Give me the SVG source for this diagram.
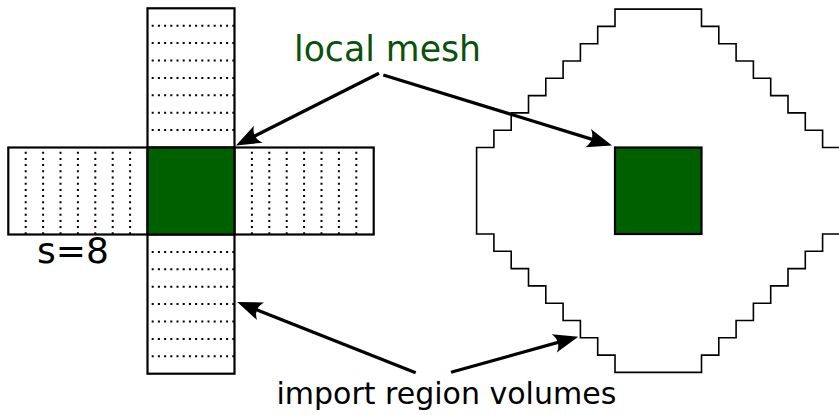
<svg xmlns="http://www.w3.org/2000/svg" width="839" height="415" viewBox="0 0 839 415">
  <style>
    .bar { fill: #ffffff; stroke: #000000; stroke-width: 2.2; }
    .mesh { fill: #006000; stroke: #000000; stroke-width: 2.2; }
    .dots { fill: none; stroke: #000000; stroke-width: 2; stroke-dasharray: 2 4.2; stroke-dashoffset: 2; }
    .stair { fill: none; stroke: #000000; stroke-width: 1.6; stroke-linejoin: miter; }
    .arrow { fill: none; stroke: #000000; stroke-width: 3.2; marker-end: url(#head); }
    .lbl { font-family: "DejaVu Sans", "Liberation Sans", sans-serif; fill: #000000; }
    .green { fill: #0b500b; }
  </style>
  <defs>
    <marker id="head" markerUnits="userSpaceOnUse" orient="auto" overflow="visible" refX="0" refY="0" markerWidth="40" markerHeight="40" viewBox="-20 -20 40 40">
      <path d="M8,0 L-17,-9.5 C-12,-3.5 -12,3.5 -17,9.5 Z" fill="#000000"/>
    </marker>
  </defs>

  <g id="import-top">
    <rect class="bar" x="147.5" y="8.3" width="87" height="139.2"/>
    <path class="dots" d="M147.5,25.7H234.5 M147.5,43.1H234.5 M147.5,60.5H234.5 M147.5,77.9H234.5 M147.5,95.3H234.5 M147.5,112.7H234.5 M147.5,130.1H234.5"/>
  </g>
  <g id="import-bottom">
    <rect class="bar" x="147.5" y="234.5" width="87" height="139.2"/>
    <path class="dots" d="M147.5,251.9H234.5 M147.5,269.3H234.5 M147.5,286.7H234.5 M147.5,304.1H234.5 M147.5,321.5H234.5 M147.5,338.9H234.5 M147.5,356.3H234.5"/>
  </g>
  <g id="import-left">
    <rect class="bar" x="8.3" y="147.5" width="139.2" height="87"/>
    <path class="dots" d="M25.7,147.5V234.5 M43.1,147.5V234.5 M60.5,147.5V234.5 M77.9,147.5V234.5 M95.3,147.5V234.5 M112.7,147.5V234.5 M130.1,147.5V234.5"/>
  </g>
  <g id="import-right">
    <rect class="bar" x="234.5" y="147.5" width="139.2" height="87"/>
    <path class="dots" d="M251.9,147.5V234.5 M269.3,147.5V234.5 M286.7,147.5V234.5 M304.1,147.5V234.5 M321.5,147.5V234.5 M338.9,147.5V234.5 M356.3,147.5V234.5"/>
  </g>
  <g id="local-mesh-left">
    <rect class="mesh" x="147.5" y="147.5" width="87" height="87"/>
  </g>

  <g id="import-region-diamond">
    <path class="stair" d="M615,9.1 H701.5 V26.4 H718.8 V43.7 H736.1 V61 H753.4 V78.3 H770.7 V95.6 H788 V112.9 H805.3 V130.2 H822.6 V147.5 H839.9 V234 H822.6 V251.3 H805.3 V268.6 H788 V285.9 H770.7 V303.2 H753.4 V320.5 H736.1 V337.8 H718.8 V355.1 H701.5 V372.4 H615 V355.1 H597.7 V337.8 H580.4 V320.5 H563.1 V303.2 H545.8 V285.9 H528.5 V268.6 H511.2 V251.3 H493.9 V234 H476.6 V147.5 H493.9 V130.2 H511.2 V112.9 H528.5 V95.6 H545.8 V78.3 H563.1 V61 H580.4 V43.7 H597.7 V26.4 H615 Z"/>
  </g>
  <g id="local-mesh-right">
    <rect class="mesh" x="615" y="147.5" width="86.5" height="86.5"/>
  </g>

  <g id="connectors">
    <path class="arrow" d="M379,73.3 L243.1,141.9"/>
    <path class="arrow" d="M383.3,75 L604.4,143.1"/>
    <path class="arrow" d="M415.7,372.7 L244.7,305"/>
    <path class="arrow" d="M451,372.3 L570.6,338.9"/>
  </g>

  <g id="labels">
    <text class="lbl green" x="294" y="61" style="font-size:34.7px">local mesh</text>
    <text class="lbl" x="37" y="263" style="font-size:36px">s=8</text>
    <text class="lbl" x="276.5" y="404" style="font-size:30px">import region volumes</text>
  </g>
</svg>
